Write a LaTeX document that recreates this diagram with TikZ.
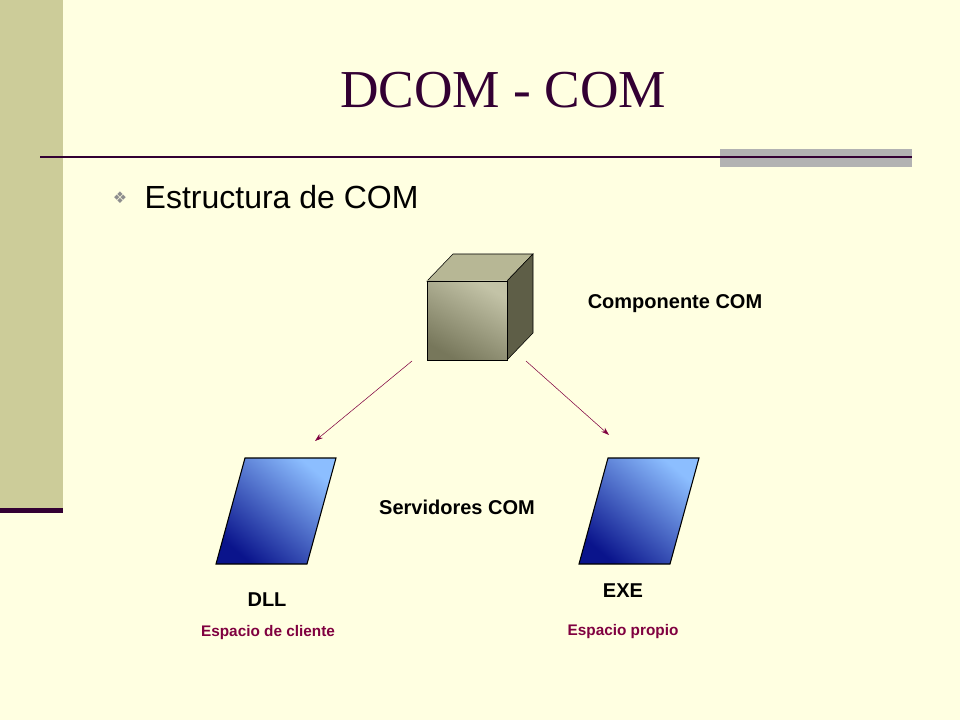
\documentclass[tikz,border=0pt]{standalone}
\usepackage{fontspec}
\setmainfont{Liberation Sans}
\newfontfamily\titlefont{Liberation Serif}
\newfontfamily\symfont{DejaVu Sans}
\usetikzlibrary{positioning, arrows.meta}
\definecolor{slidebg}{RGB}{255,255,225}
\definecolor{sidebar}{RGB}{204,204,153}
\definecolor{plum}{RGB}{51,0,51}
\definecolor{wine}{RGB}{128,0,64}
\definecolor{graybar}{RGB}{178,178,178}
\definecolor{navyblue}{RGB}{10,20,140}
\definecolor{skyblue}{RGB}{140,190,255}
\definecolor{cubefront}{RGB}{170,170,130}
\tikzset{
  lbl/.style={font=\bfseries\fontsize{15}{18}\selectfont},
  sublbl/.style={font=\bfseries\fontsize{11.5}{14}\selectfont, text=wine},
  link/.style={wine, -{Stealth[length=6pt,width=4pt]}},
  server/.style={draw=black, thick, top color=skyblue, bottom color=navyblue, shading angle=-40}
}
\begin{document}
\begin{tikzpicture}[x=0.75pt,y=-0.75pt]
\useasboundingbox (0,0) rectangle (960,720);
\fill[slidebg] (0,0) rectangle (960,720);
% side bar
\fill[sidebar] (0,0) rectangle (63,510);
\fill[plum] (0,508) rectangle (63,513);
% title
\node[font=\titlefont\fontsize{40}{48}\selectfont, text=plum] (title) at (503,90) {DCOM - COM};
\fill[graybar] (720,149) rectangle (912,167);
\draw[plum, line width=1.5pt] (40,157) -- (912,157);
% bullet
\node[font=\symfont\fontsize{12}{12}\selectfont, text=graybar!80!black] (bul) at (120,198) {\char"2756};
\node[anchor=west, font=\fontsize{24}{28}\selectfont] (head) at (140,197) {Estructura de COM};
% cube
\fill[cubefront!85!white, draw=black] (427,281) -- (453,254) -- (533,254) -- (507,281) -- cycle;
\fill[cubefront!55!black, draw=black] (507,281) -- (533,254) -- (533,333) -- (507,360) -- cycle;
\node[draw=black, minimum width=60pt, minimum height=59.25pt, inner sep=0pt,
  top color=cubefront!70!white, bottom color=cubefront!70!black, shading angle=-30] (cube) at (467,320.5) {};
\node[lbl] (comp) at (675,304) {Componente COM};
% servers
\draw[server] (216,564) -- (307,564) -- (336,458) -- (245,458) -- cycle;
\draw[server] (579,564) -- (670,564) -- (699,458) -- (608,458) -- cycle;
\coordinate (dllin) at (315,441);
\coordinate (exein) at (609,435);
\coordinate (cubeL) at (412,361);
\coordinate (cubeR) at (526,361);
\draw[link] (cubeL) -- (dllin);
\draw[link] (cubeR) -- (exein);
\node[lbl] (serv) at (457,507) {Servidores COM};
\node[lbl] (dll) at (267,600) {DLL};
\node[sublbl] (dllsp) at (268,633) {Espacio de cliente};
\node[lbl] (exe) at (623,591) {EXE};
\node[sublbl] (exesp) at (623,632) {Espacio propio};
\end{tikzpicture}
\end{document}
